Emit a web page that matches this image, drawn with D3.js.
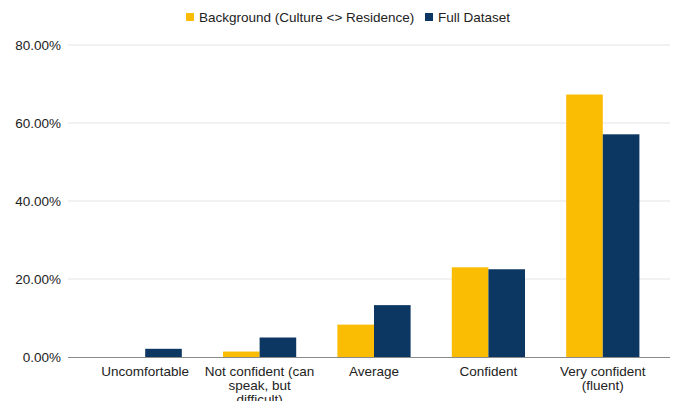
<!DOCTYPE html>
<html>
<head>
<meta charset="utf-8">
<script src="https://cdn.jsdelivr.net/npm/d3@7"></script>
<style>
  html, body { margin: 0; padding: 0; background: #fff; }
  svg { display: block; font-family: "Liberation Sans", Arial, sans-serif; }
</style>
</head>
<body>
<svg id="chart" width="674" height="401"></svg>
<script>
// Confidence levels (x categories)
const categories = [
  "Uncomfortable",
  "Not confident (can speak, but difficult)",
  "Average",
  "Confident",
  "Very confident (fluent)"
];
// Share of respondents per level, in percent
const seriesNames = ["Background (Culture <> Residence)", "Full Dataset"];
const backgroundValues = [0.0, 1.4, 8.3, 23.0, 67.3];
const fullDatasetValues = [2.1, 5.0, 13.3, 22.5, 57.1];
const yTicks = [0, 20, 40, 60, 80];
const colors = ["#fbbc04", "#0b3762"];

const FS = 13.5;
const svg = d3.select("#chart");
const plot = { left: 68, right: 670, top: 45, bottom: 357 };

const x = d3.scaleBand().domain(categories).range([88, 660]).paddingInner(0.36).paddingOuter(0.18);
const x1 = d3.scaleBand().domain(seriesNames).range([0, x.bandwidth()]);
const y = d3.scaleLinear().domain([0, 80]).range([plot.bottom, plot.top]);

// Horizontal gridlines
svg.append("g").selectAll("line").data(yTicks.filter(t => t > 0)).join("line")
  .attr("x1", plot.left).attr("x2", plot.right)
  .attr("y1", d => y(d)).attr("y2", d => y(d))
  .attr("stroke", "#e3e3e3").attr("stroke-width", 1);

// Y axis labels
const yAxis = d3.axisLeft(y).tickValues(yTicks).tickSize(0).tickPadding(0)
  .tickFormat(d => d.toFixed(2) + "%");
const gy = svg.append("g").attr("transform", "translate(61,0)").call(yAxis);
gy.select(".domain").remove();
gy.selectAll("text").attr("font-size", FS).attr("fill", "#222").attr("dy", "0.35em")
  .attr("font-family", "Liberation Sans, Arial, sans-serif");

// Bars
const rows = categories.map((c, i) => ({ cat: c, vals: [backgroundValues[i], fullDatasetValues[i]] }));
const groups = svg.append("g").selectAll("g").data(rows).join("g")
  .attr("transform", d => `translate(${x(d.cat)},0)`);
groups.selectAll("rect").data(d => d.vals.map((v, k) => ({ v, k })).filter(e => e.v > 0)).join("rect")
  .attr("x", e => x1(seriesNames[e.k]))
  .attr("width", x1.bandwidth())
  .attr("y", e => y(e.v))
  .attr("height", e => y(0) - y(e.v))
  .attr("fill", e => colors[e.k]);

// Baseline
svg.append("line").attr("x1", plot.left).attr("x2", plot.right)
  .attr("y1", y(0) + 0.5).attr("y2", y(0) + 0.5)
  .attr("stroke", "#8a8a8a").attr("stroke-width", 1);

// X axis labels, wrapped to a fixed width
const xAxis = d3.axisBottom(x).tickSize(0).tickPadding(0);
const gx = svg.append("g").attr("transform", `translate(0,${y(0)})`).call(xAxis);
gx.select(".domain").remove();
gx.selectAll("text").attr("font-size", FS).attr("fill", "#222").attr("font-family", "Liberation Sans, Arial, sans-serif")
  .each(function(d) {
    const t = d3.select(this);
    const words = d.split(" ");
    const maxW = 112;
    t.text(null).attr("y", 19).attr("dy", null);
    let lines = [], line = [];
    const tmp = t.append("tspan");
    words.forEach(w => {
      line.push(w);
      tmp.text(line.join(" "));
      if (tmp.node().getComputedTextLength() > maxW && line.length > 1) {
        line.pop(); lines.push(line.join(" ")); line = [w];
      }
    });
    lines.push(line.join(" "));
    tmp.remove();
    lines.forEach((l, i) => t.append("tspan").attr("x", 0).attr("y", 19 + i * 14).text(l));
  });

// Legend
const legend = svg.append("g").attr("transform", "translate(0,17)");
const lx = [186, 425];
seriesNames.forEach((n, i) => {
  legend.append("rect").attr("x", lx[i]).attr("y", -4).attr("width", 8).attr("height", 8).attr("fill", colors[i]);
  legend.append("text").attr("x", lx[i] + 13).attr("y", 0).attr("dy", "0.35em")
    .attr("font-size", FS).attr("fill", "#222").text(n);
});
</script>
</body>
</html>
